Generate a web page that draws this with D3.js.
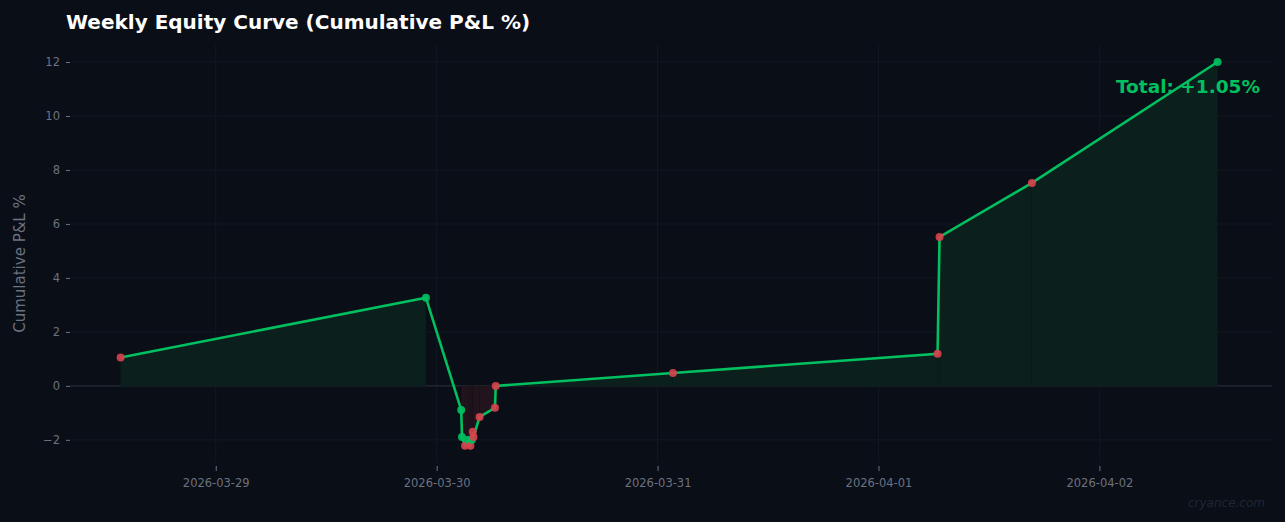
<!DOCTYPE html>
<html><head><meta charset="utf-8">
<script src="https://cdn.jsdelivr.net/npm/d3@7"></script>
<style>body{margin:0;background:#0a0e17;}svg{display:block;font-family:"DejaVu Sans",sans-serif;}</style>
</head><body><svg id="c" width="1285" height="522"></svg>
<script>
const times = ["2026-03-28T13:40","2026-03-29T22:50","2026-03-30T02:40","2026-03-30T02:45","2026-03-30T03:05","2026-03-30T03:25","2026-03-30T03:40","2026-03-30T03:50","2026-03-30T03:55","2026-03-30T04:00","2026-03-30T04:40","2026-03-30T06:20","2026-03-30T06:25","2026-03-31T01:40","2026-04-01T06:25","2026-04-01T06:38","2026-04-01T16:40","2026-04-02T12:50"];
const values = [1.05,3.27,-0.89,-1.89,-2.22,-2.0,-2.22,-2.0,-1.7,-1.89,-1.15,-0.81,0.0,0.48,1.19,5.52,7.52,12.0];
const pointWin = [false,true,true,true,false,true,false,true,false,false,false,false,false,false,false,false,false,true];
const yTicks = [-2,0,2,4,6,8,10,12];
const xTicks = ["2026-03-29","2026-03-30","2026-03-31","2026-04-01","2026-04-02"];
const parse = d3.timeParse("%Y-%m-%dT%H:%M"), pd = d3.timeParse("%Y-%m-%d");
const data = times.map((t,i)=>({t:parse(t),v:values[i],w:pointWin[i]}));
const svg = d3.select("#c");
const L=70,R=1272,T=45,B=462;
const x = d3.scaleTime().domain([parse("2026-03-28T08:10"),parse("2026-04-02T18:45")]).range([L,R]);
const y = d3.scaleLinear().domain([-2.82,12.63]).range([B,T]);
// grid
svg.append("g").selectAll("line").data(yTicks).join("line").attr("x1",L).attr("x2",R)
 .attr("y1",d=>y(d)).attr("y2",d=>y(d)).attr("stroke","#141a26").attr("stroke-width",0.8);
svg.append("g").selectAll("line").data(xTicks).join("line").attr("y1",T).attr("y2",B)
 .attr("x1",d=>x(pd(d))).attr("x2",d=>x(pd(d))).attr("stroke","#141a26").attr("stroke-width",0.8);
svg.append("line").attr("x1",L).attr("x2",R).attr("y1",y(0)).attr("y2",y(0)).attr("stroke","#2a303c").attr("stroke-width",1);
// fills
const area = d3.area().x(d=>x(d.t)).y0(y(0)).y1(d=>y(d.v));
for(let i=0;i<data.length-1;i++){
  const a=data[i],b=data[i+1];
  if(a.v>=0&&b.v>=0) svg.append("path").attr("d",area([a,b])).attr("fill","#0b1f1d").attr("stroke","#0b1f1d").attr("stroke-width",0.5);
  else if(a.v<=0&&b.v<=0) svg.append("path").attr("d",area([a,b])).attr("fill","#21141c").attr("stroke","#21141c").attr("stroke-width",0.5);
}
// axes
const ya=svg.append("g").attr("transform",`translate(${L},0)`).call(d3.axisLeft(y).tickValues(yTicks).tickFormat(d=>d<0?"−"+(-d):d).tickSize(4).tickPadding(6));
const xa=svg.append("g").attr("transform",`translate(0,${B+4})`).call(d3.axisBottom(x).tickValues(xTicks.map(pd)).tickFormat(d3.timeFormat("%Y-%m-%d")).tickSize(5).tickPadding(8));
[ya,xa].forEach(g=>{g.select(".domain").remove();g.selectAll("line").attr("stroke","#6b7280");g.selectAll("text").attr("fill","#6b7280").attr("font-size",11.5).attr("font-family","DejaVu Sans");});
// line
svg.append("path").datum(data).attr("d",d3.line().x(d=>x(d.t)).y(d=>y(d.v))).attr("fill","none").attr("stroke","#00c060").attr("stroke-width",2.6);
svg.append("g").selectAll("circle").data(data).join("circle").attr("cx",d=>x(d.t)).attr("cy",d=>y(d.v)).attr("r",4)
 .attr("fill",d=>d.w?"#00c060":"#d9414e").attr("fill-opacity",0.9);
// texts
svg.append("text").attr("x",66).attr("y",29).attr("fill","#ffffff").attr("font-size",20).attr("font-weight","bold").text("Weekly Equity Curve (Cumulative P&L %)");
svg.append("text").attr("transform",`translate(25,${(T+B)/2+10}) rotate(-90)`).attr("text-anchor","middle").attr("fill","#6b7280").attr("font-size",15).text("Cumulative P&L %");
svg.append("text").attr("x",1260).attr("y",93).attr("text-anchor","end").attr("fill","#00c060").attr("font-size",18.5).attr("font-weight","bold").text("Total: +1.05%");
svg.append("text").attr("x",1265).attr("y",507).attr("text-anchor","end").attr("fill","#1f2633").attr("font-size",12).attr("font-style","italic").text("cryance.com");
</script></body></html>
